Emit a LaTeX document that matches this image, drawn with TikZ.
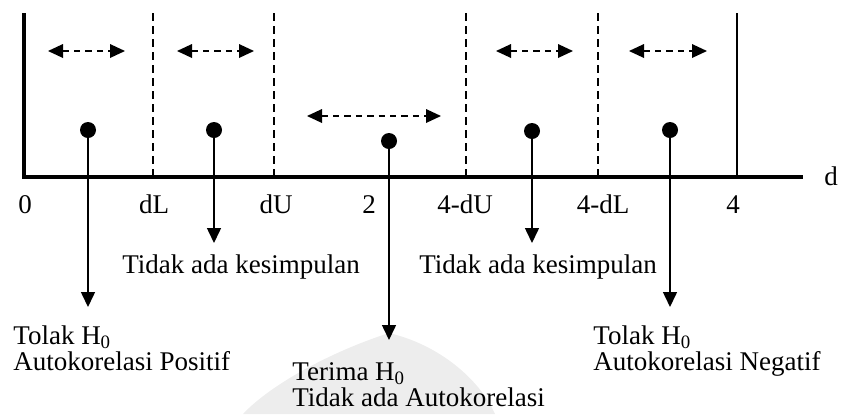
\documentclass[tikz,border=0pt]{standalone}
\usepackage{fontspec}
\setmainfont{Liberation Serif}
\usetikzlibrary{arrows.meta}
\tikzset{
  lbl/.style={inner sep=0pt, font=\fontsize{13.5}{13.2}\selectfont},
  blk/.style={lbl, align=left, anchor=north west},
  dotnode/.style={circle, fill=black, inner sep=0pt, minimum size=8pt},
  axisline/.style={line width=2pt},
  divdash/.style={line width=0.7pt, dash pattern=on 4pt off 2.5pt},
  divsolid/.style={line width=0.75pt},
  dblarr/.style={line width=0.75pt, dash pattern=on 3.2pt off 2.5pt, {Triangle[length=7.5pt,width=6.8pt]}-{Triangle[length=7.5pt,width=6.8pt]}},
  downarr/.style={line width=0.75pt, -{Triangle[length=7.5pt,width=7pt]}},
  wmark/.style={fill=black!7, draw=none}
}
\begin{document}
\begin{tikzpicture}[x=0.5pt, y=-0.5pt]
\useasboundingbox (0,0) rectangle (844,414);
% faint watermark
\fill[wmark] (389,333) .. controls (330,352) and (270,385) .. (243,414)
  -- (495,414) .. controls (480,380) and (440,345) .. (389,333) -- cycle;
% axes
\coordinate (top) at (24,13);
\coordinate (origin) at (24,177);
\coordinate (xend) at (803,177);
\draw[axisline] (top) -- (origin) -- (xend);
% boundaries
\draw[divdash] (153,13) -- (153,177);
\draw[divdash] (274,13) -- (274,177);
\draw[divdash] (466,13) -- (466,177);
\draw[divdash] (598,13) -- (598,177);
\draw[divsolid] (737,13) -- (737,177);
% tick labels
\node[lbl, anchor=base] (l0) at (25,213) {0};
\node[lbl, anchor=base] (ldl) at (154,213) {dL};
\node[lbl, anchor=base] (ldu) at (276,213) {dU};
\node[lbl, anchor=base] (l2) at (369,213) {2};
\node[lbl, anchor=base] (l4du) at (465,213) {4-dU};
\node[lbl, anchor=base] (l4dl) at (603,213) {4-dL};
\node[lbl, anchor=base] (l4) at (733,213) {4};
\node[lbl, anchor=base] (ld) at (831,185) {d};
% double dashed arrows
\coordinate (a1l) at (48,51);  \coordinate (a1r) at (125,51);
\coordinate (a2l) at (177,51); \coordinate (a2r) at (254,51);
\coordinate (a3l) at (307,116); \coordinate (a3r) at (441,116);
\coordinate (a4l) at (496,51); \coordinate (a4r) at (573,51);
\coordinate (a5l) at (629,51); \coordinate (a5r) at (707,51);
\draw[dblarr] (a1l) -- (a1r);
\draw[dblarr] (a2l) -- (a2r);
\draw[dblarr] (a3l) -- (a3r);
\draw[dblarr] (a4l) -- (a4r);
\draw[dblarr] (a5l) -- (a5r);
% dots
\node[dotnode] (p1) at (88,130) {};
\node[dotnode] (p2) at (214,130) {};
\node[dotnode] (p3) at (389,141) {};
\node[dotnode] (p4) at (532,131) {};
\node[dotnode] (p5) at (670,130) {};
% arrow tips
\coordinate (t1) at (88,307);
\coordinate (t2) at (214,243);
\coordinate (t3) at (389,340);
\coordinate (t4) at (532,243);
\coordinate (t5) at (670,307);
\draw[downarr] (p1.center) -- (t1);
\draw[downarr] (p2.center) -- (t2);
\draw[downarr] (p3.center) -- (t3);
\draw[downarr] (p4.center) -- (t4);
\draw[downarr] (p5.center) -- (t5);
% texts
\node[lbl, anchor=base west] (tk1) at (122,273) {Tidak ada kesimpulan};
\node[lbl, anchor=base west] (tk2) at (419,273) {Tidak ada kesimpulan};
\node[blk] (tpos) at (13,325) {Tolak H\textsubscript{0}\\Autokorelasi Positif};
\node[blk] (tter) at (292,362) {Terima H\textsubscript{0}\\Tidak ada Autokorelasi};
\node[blk] (tneg) at (593,325) {Tolak H\textsubscript{0}\\Autokorelasi Negatif};
\end{tikzpicture}
\end{document}
